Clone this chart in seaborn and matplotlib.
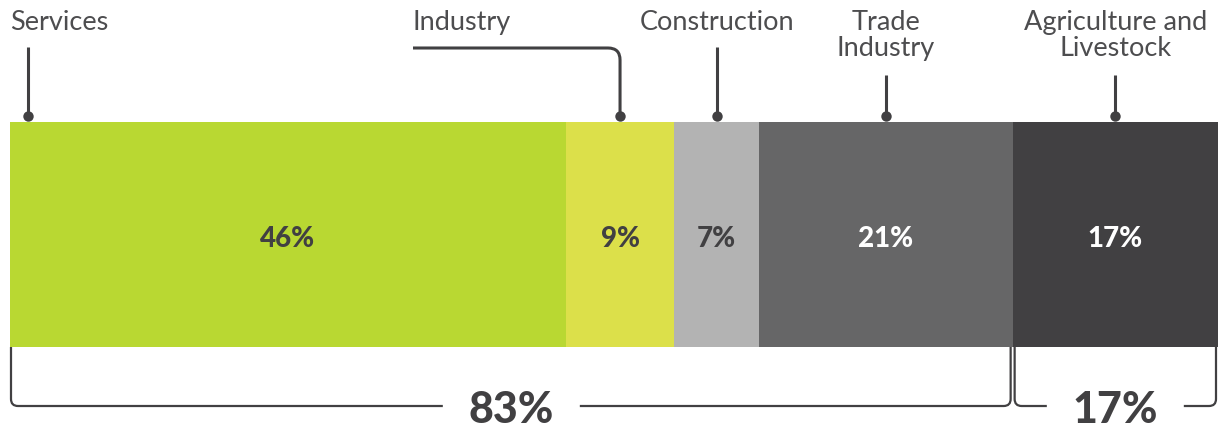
import matplotlib
matplotlib.use("Agg")
import matplotlib.pyplot as plt
from matplotlib.path import Path
from matplotlib.patches import PathPatch
import seaborn as sns
import numpy as np

# ---- data ----
sectors = ["Services", "Industry", "Construction", "Trade\nIndustry", "Agriculture and\nLivestock"]
shares = [46, 9, 7, 21, 17]
share_labels = ["46%", "9%", "7%", "21%", "17%"]
colors = ["#b9d832", "#dce04a", "#b3b3b3", "#666667", "#414042"]
label_colors = ["#414042", "#414042", "#414042", "#ffffff", "#ffffff"]
groups = [(0, 4), (4, 5)]          # segment index ranges for the brackets
group_labels = ["83%", "17%"]

sns.set_theme(style="white")
plt.rcParams["font.family"] = ["Lato", "DejaVu Sans"]

W, H = 1218, 431
fig = plt.figure(figsize=(W / 100, H / 100), dpi=100)

# bar axes occupies the bar area
bar_left, bar_right, bar_top, bar_bot = 10, 1218, 123, 348
ax = fig.add_axes([bar_left / W, (H - bar_bot) / H, (bar_right - bar_left) / W, (bar_bot - bar_top) / H])
cum = np.cumsum(shares)
starts = cum - np.array(shares)
for i in reversed(range(len(shares))):
    sns.barplot(x=[cum[i]], y=[""], color=colors[i], orient="h", width=1,
                saturation=1, linewidth=0, ax=ax)
ax.set_xlim(0, 100)
ax.set_ylim(0.5, -0.5)
ax.axis("off")

# overlay axes: x in percent, y in pixels
S = (bar_right - bar_left) / 100.0
ov = fig.add_axes([0, 0, 1, 1], zorder=5)
ov.set_xlim(-bar_left / S, 100)
ov.set_ylim(H, 0)
ov.axis("off")
ov.patch.set_alpha(0)

dark = "#414042"
txt = "#4d4d4f"
lab_fs = 19.5
lab_fw = "normal"

# values inside bars
centers = starts + np.array(shares) / 2
bar_mid = (bar_top + bar_bot) / 2
for c, lab, lc in zip(centers, share_labels, label_colors):
    ov.text(c, bar_mid + 12, lab, ha="center", va="baseline", fontsize=20,
            fontweight="black", color=lc)

# leader lines and labels
dot_y = 117
lw = 2.2
for i, (name, c) in enumerate(zip(sectors, centers)):
    lines = name.split("\n")
    if i == 0:
        x = starts[0] + 18 / S
        ov.plot([x, x], [48, dot_y], color=dark, lw=lw, solid_capstyle="butt")
        ov.text(0, 30, lines[0], ha="left", va="baseline", fontsize=lab_fs,
                fontweight=lab_fw, color=txt)
    elif i == 1:
        x = c
        r = 12
        xs = starts[0] + 403 / S
        verts = [(xs, 49), (x - r / S, 49), (x, 49), (x, 49 + r), (x, dot_y)]
        codes = [Path.MOVETO, Path.LINETO, Path.CURVE3, Path.CURVE3, Path.LINETO]
        ov.add_patch(PathPatch(Path(verts, codes), fill=False, ec=dark, lw=lw))
        ov.text(xs, 30, lines[0], ha="left", va="baseline", fontsize=lab_fs,
                fontweight=lab_fw, color=txt)
    else:
        x = c
        top = 48 if len(lines) == 1 else 76
        ov.plot([x, x], [top, dot_y], color=dark, lw=lw, solid_capstyle="butt")
        for k, ln in enumerate(lines):
            ov.text(x, 30 + 26 * k, ln, ha="center", va="baseline", fontsize=lab_fs,
                    fontweight=lab_fw, color=txt)
    ov.plot([x], [dot_y], marker="o", ms=7.5, color=dark, mec="none")

# brackets below
ytop, ybot, r = bar_bot, 407, 7
gap = 68.5
for (a, b), glab in zip(groups, group_labels):
    xl = starts[a] + (1 if a == 0 else 2) / S
    xr = cum[b - 1] - 2 / S
    xc = (starts[a] + cum[b - 1]) / 2
    verts = [(xl, ytop), (xl, ybot - r), (xl, ybot), (xl + r / S, ybot), (xc - gap / S, ybot),
             (xc + gap / S, ybot), (xr - r / S, ybot), (xr, ybot), (xr, ybot - r), (xr, ytop)]
    codes = [Path.MOVETO, Path.LINETO, Path.CURVE3, Path.CURVE3, Path.LINETO,
             Path.MOVETO, Path.LINETO, Path.CURVE3, Path.CURVE3, Path.LINETO]
    ov.add_patch(PathPatch(Path(verts, codes), fill=False, ec=dark, lw=1.6))
    ov.text(xc, 423, glab, ha="center", va="baseline", fontsize=31,
            fontweight="black", color=dark)

fig.savefig("out.png", dpi=100)
